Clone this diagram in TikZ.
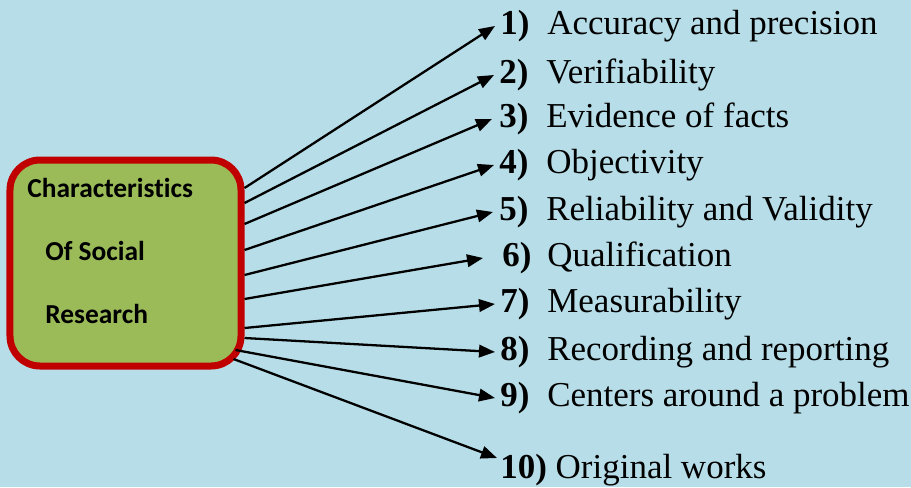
\documentclass[tikz,border=0pt]{standalone}
\usepackage{fontspec}
\setmainfont{Liberation Serif}
\newfontfamily\boxfont[RawFeature=-liga]{Carlito}
\usetikzlibrary{arrows.meta}
\definecolor{bgblue}{RGB}{183,222,232}
\definecolor{boxgreen}{RGB}{155,187,89}
\definecolor{boxred}{RGB}{192,0,0}
\newcommand{\itemno}[2][9.4mm]{\makebox[#1][l]{\textbf{#2}}}
\begin{document}
\begin{tikzpicture}[x=0.2mm,y=-0.2mm,
	box/.style={draw=boxred,fill=boxgreen,line width=1.4mm,rounded corners=6mm,
		minimum width=46.2mm,minimum height=41.2mm,inner sep=0pt},
	boxtext/.style={anchor=west,align=left,inner sep=0pt,
		font=\boxfont\bfseries\fontsize{15.6}{35.8}\selectfont},
	item/.style={anchor=west,inner sep=0pt,font=\fontsize{19.9}{22}\selectfont},
	conn/.style={-{Triangle[length=3.2mm,width=2.5mm]},line width=1.3pt}]
		\fill[bgblue] (0,0) rectangle (911,487);
		\useasboundingbox (0,0) rectangle (911,487);
		% box on the left
		\node[box] (box) at (125.5,263) {};
		\node[boxtext] (title) at (27,251) {Characteristics\\\hspace{3.6mm}Of Social\\\hspace{3.6mm}Research};
		% the ten items
		\node[item] (i1) at (495,26) {\hspace{1mm}\itemno{1)}Accuracy and precision};
		\node[item] (i2) at (494,75) {\hspace{1mm}\itemno{2)}Verifiability};
		\node[item] (i3) at (492,119) {\hspace{1.4mm}\itemno{3)}Evidence of facts};
		\node[item] (i4) at (494,165) {\hspace{1mm}\itemno{4)}Objectivity};
		\node[item] (i5) at (493,212) {\hspace{1.2mm}\itemno{5)}Reliability and Validity};
		\node[item] (i6) at (483,258) {\hspace{3.8mm}\itemno[9mm]{6)}Qualification};
		\node[item] (i7) at (495,304) {\hspace{1mm}\itemno{7)}Measurability};
		\node[item] (i8) at (495,352) {\hspace{1mm}\itemno{8)}Recording and reporting};
		\node[item] (i9) at (495,398) {\hspace{1mm}\itemno{9)}Centers around a problem};
		\node[item] (i10) at (497,470) {\hspace{0.6mm}\textbf{10)} Original works};
		% arrows
		\draw[conn] ([shift={(0,-75)}]box.east) -- (i1.west);
		\draw[conn] ([shift={(0,-60)}]box.east) -- (i2.west);
		\draw[conn] ([shift={(0,-39)}]box.east) -- (i3.west);
		\draw[conn] ([shift={(0,-13)}]box.east) -- (i4.west);
		\draw[conn] ([shift={(0,12)}]box.east) -- (i5.west);
		\draw[conn] ([shift={(0,36)}]box.east) -- (i6.west);
		\draw[conn] ([shift={(0,65)}]box.east) -- (i7.west);
		\draw[conn] ([shift={(0,75)}]box.east) -- (i8.west);
		\draw[conn] ([shift={(-9,87)}]box.east) -- (i9.west);
		\draw[conn] ([shift={(-11,96)}]box.east) -- ([shift={(0,-12)}]i10.west);
\end{tikzpicture}
\end{document}
